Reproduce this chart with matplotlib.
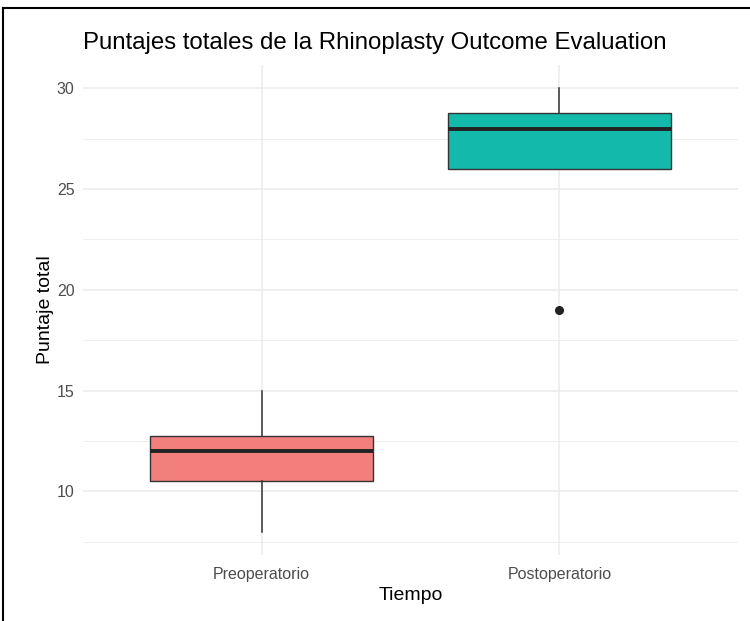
import matplotlib.pyplot as plt
from matplotlib.lines import Line2D
from matplotlib.ticker import MultipleLocator

plt.rcParams["font.family"] = ["Liberation Sans", "DejaVu Sans"]

groups = ["Preoperatorio", "Postoperatorio"]
colors = ["#F27F7C", "#13B9AA"]
whisker_low = [8, 26]
q1 = [10.5, 26]
median = [12, 28]
q3 = [12.75, 28.75]
whisker_high = [15, 30]
outliers = [[], [19]]

stats = []
for i, name in enumerate(groups):
    stats.append({
        "label": name,
        "whislo": whisker_low[i],
        "q1": q1[i],
        "med": median[i],
        "q3": q3[i],
        "whishi": whisker_high[i],
        "fliers": outliers[i],
    })

fig = plt.figure(figsize=(7.5, 6.21), dpi=100)
ax = fig.add_axes([83 / 750, 1 - 555 / 621, 655 / 750, 490 / 621])

positions = list(range(1, len(groups) + 1))
bp = ax.bxp(
    stats,
    positions=positions,
    widths=0.75,
    patch_artist=True,
    showcaps=False,
    boxprops=dict(edgecolor="#333333", linewidth=1.0),
    medianprops=dict(color="#222222", linewidth=2.8, solid_capstyle="butt"),
    whiskerprops=dict(color="#333333", linewidth=1.1),
    flierprops=dict(marker="o", markerfacecolor="#222222",
                    markeredgecolor="#222222", markersize=5.5),
    zorder=3,
)
for patch, c in zip(bp["boxes"], colors):
    patch.set_facecolor(c)

ax.set_xlim(0.4, len(groups) + 0.6)
ax.set_ylim(6.85, 31.15)
ax.yaxis.set_major_locator(MultipleLocator(5))
ax.yaxis.set_minor_locator(MultipleLocator(2.5))
ax.set_xticks(positions)
ax.set_xticklabels(groups)

ax.grid(True, which="major", color="#EBEBEB", linewidth=1.1, zorder=0)
ax.grid(True, which="minor", axis="y", color="#EBEBEB", linewidth=0.6, zorder=0)
ax.set_axisbelow(True)
for s in ax.spines.values():
    s.set_visible(False)
ax.tick_params(which="both", length=0, labelsize=11.5, labelcolor="#4D4D4D")
ax.tick_params(axis="x", pad=9)
ax.tick_params(axis="y", pad=6)

ax.set_xlabel("Tiempo", fontsize=14, labelpad=3)
ax.set_ylabel("Puntaje total", fontsize=14, labelpad=2)
fig.text(83 / 750, 1 - 43 / 621, "Puntajes totales de la Rhinoplasty Outcome Evaluation",
         fontsize=17.3, ha="left", va="center")

# frame lines at top and left edges of the image
fig.add_artist(Line2D([3 / 750, 1], [1 - 8 / 621, 1 - 8 / 621], color="black", linewidth=1.5))
fig.add_artist(Line2D([3 / 750, 3 / 750], [0, 1 - 8 / 621], color="black", linewidth=1.5))

fig.savefig("out.png", dpi=100, facecolor="white")
